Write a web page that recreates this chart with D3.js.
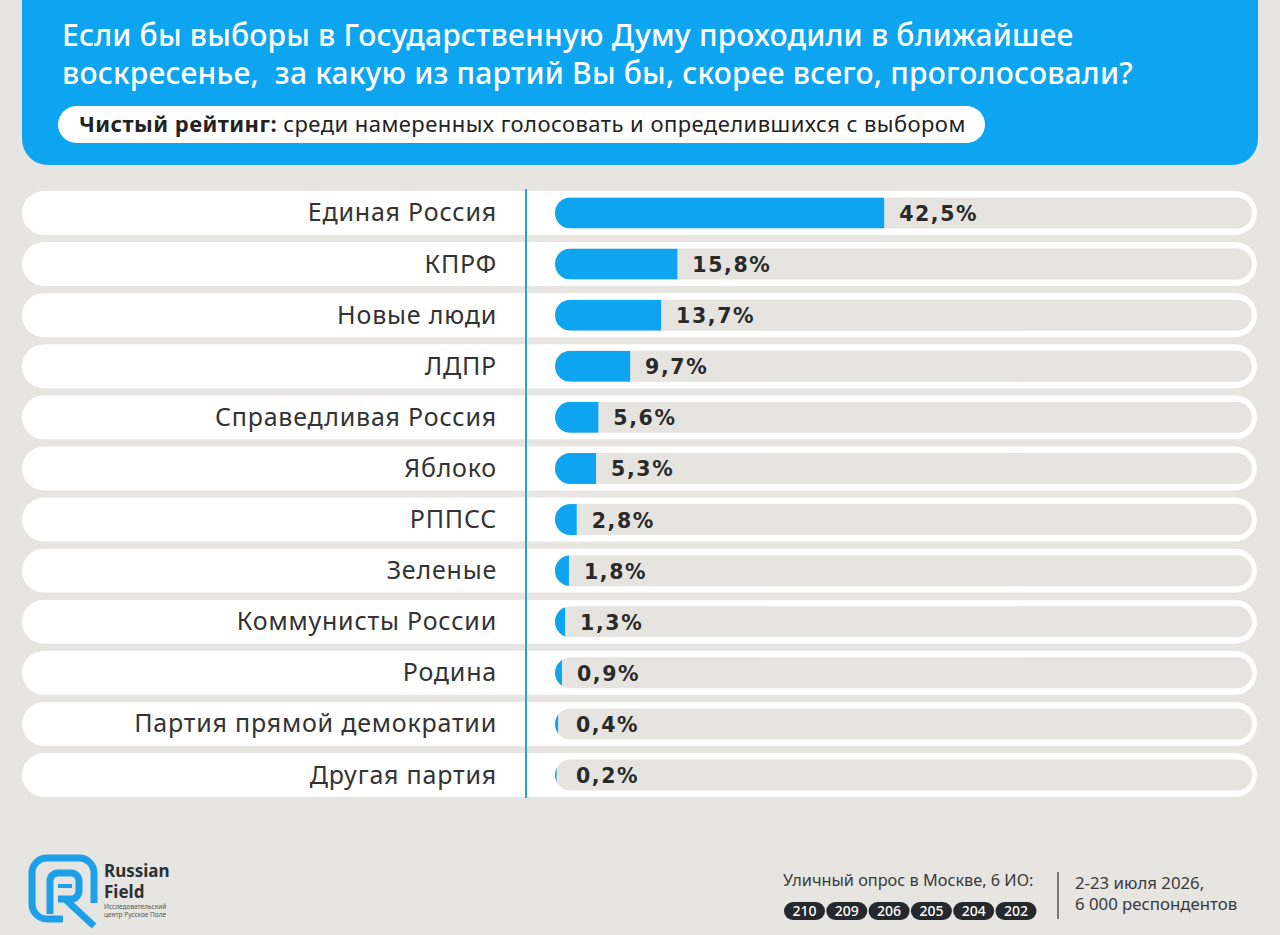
<!DOCTYPE html>
<html lang="ru">
<head>
<meta charset="UTF-8">
<title>Рейтинг партий</title>
<script src="https://cdn.jsdelivr.net/npm/d3@7"></script>
<style>
  body { margin: 0; background: #e6e5e2; }
  svg { display: block; }
</style>
</head>
<body>
<div id="app"></div>
<script>
var width = 1280;
var height = 935;

// данные
var parties = ["Единая Россия", "КПРФ", "Новые люди", "ЛДПР", "Справедливая Россия", "Яблоко",
  "РППСС", "Зеленые", "Коммунисты России", "Родина", "Партия прямой демократии", "Другая партия"];
var values = [42.5, 15.8, 13.7, 9.7, 5.6, 5.3, 2.8, 1.8, 1.3, 0.9, 0.4, 0.2];
var titleLines = ["Если бы выборы в Государственную Думу проходили в ближайшее",
  "воскресенье,  за какую из партий Вы бы, скорее всего, проголосовали?"];
var districts = ["210", "209", "206", "205", "204", "202"];

var blue = "#0ea5f0";
var dark = "#2e3033";
var font = "'Noto Sans', 'Open Sans', sans-serif";

var svg = d3.select("#app").append("svg")
  .attr("width", width)
  .attr("height", height)
  .style("font-family", font);

svg.append("rect").attr("width", width).attr("height", height).attr("fill", "#e6e5e2");

// шапка
svg.append("rect")
  .attr("x", 22).attr("y", -40)
  .attr("width", 1236).attr("height", 205)
  .attr("rx", 26)
  .attr("fill", blue);

svg.selectAll(".title")
  .data(titleLines)
  .enter().append("text")
  .attr("class", "title")
  .attr("x", 62)
  .attr("y", function (d, i) { return 46 + i * 38; })
  .attr("fill", "#fff")
  .style("font-size", "30px")
  .style("font-weight", 500)
  .style("letter-spacing", "0.2px")
  .style("white-space", "pre")
  .text(function (d) { return d; });

svg.append("rect")
  .attr("x", 58).attr("y", 106)
  .attr("width", 927).attr("height", 37)
  .attr("rx", 18.5)
  .attr("fill", "#fff");

var sub = svg.append("text")
  .attr("x", 79).attr("y", 132)
  .attr("fill", "#222")
  .style("font-size", "22px")
  .style("letter-spacing", "0.45px");
sub.append("tspan").style("font-weight", 700).text("Чистый рейтинг:");
sub.append("tspan").text(" среди намеренных голосовать и определившихся с выбором");

// шкалы
var x = d3.scaleLinear().domain([0, 90]).range([555, 1252]);
var y = d3.scaleBand().domain(parties).range([191, 797]).paddingInner(0.14).paddingOuter(0);
var bh = y.bandwidth();
var th = 31;

var defs = svg.append("defs");

var rows = svg.selectAll(".row")
  .data(parties)
  .enter().append("g")
  .attr("class", "row")
  .attr("transform", function (d) { return "translate(0," + y(d) + ")"; });

rows.append("rect")
  .attr("x", 22).attr("y", 0)
  .attr("width", 1235).attr("height", bh)
  .attr("rx", bh / 2)
  .attr("fill", "#fff");

rows.append("rect")
  .attr("x", x(0)).attr("y", (bh - th) / 2)
  .attr("width", x.range()[1] - x(0)).attr("height", th)
  .attr("rx", th / 2)
  .attr("fill", "#e5e4e1");

rows.each(function (d, i) {
  defs.append("clipPath").attr("id", "clip" + i)
    .append("rect")
    .attr("x", x(0)).attr("y", (bh - th) / 2)
    .attr("width", x.range()[1] - x(0)).attr("height", th)
    .attr("rx", th / 2);
});

rows.append("rect")
  .attr("clip-path", function (d, i) { return "url(#clip" + i + ")"; })
  .attr("x", x(0)).attr("y", (bh - th) / 2)
  .attr("width", function (d, i) { return x(values[i]) - x(0); })
  .attr("height", th)
  .attr("fill", blue);

rows.append("text")
  .attr("x", 497)
  .attr("y", bh / 2 + 8.5)
  .attr("text-anchor", "end")
  .attr("fill", "#333")
  .style("font-size", "25px")
  .style("letter-spacing", "0.8px")
  .text(function (d) { return d; });

rows.append("text")
  .attr("x", function (d, i) { return Math.max(x(values[i]), x(0) + 6) + 15; })
  .attr("y", bh / 2 + 8)
  .attr("fill", "#2a2a2a")
  .style("font-family", "'DejaVu Sans', sans-serif")
  .style("font-size", "20.5px")
  .style("font-weight", 700)
  .style("letter-spacing", "1.6px")
  .text(function (d, i) { return String(values[i]).replace(".", ",") + "%"; });

svg.append("line")
  .attr("x1", 526).attr("x2", 526)
  .attr("y1", 189).attr("y2", 798)
  .attr("stroke", "#2b9fdc")
  .attr("stroke-width", 2);

// логотип
var logo = svg.append("g")
  .attr("fill", "none")
  .attr("stroke", "#1ea0e8")
  .attr("stroke-width", 7)
  .attr("stroke-linejoin", "round");
logo.append("path")
  .attr("d", "M63,919 H47 A15,15 0 0 1 32,904 V873 A15,15 0 0 1 47,858 H79 A15,15 0 0 1 94,873 V903");
logo.append("path")
  .attr("d", "M50,914 V881 A8,8 0 0 1 58,873 H71 A8,8 0 0 1 79,881 V891 A8,8 0 0 1 71,899 H58 M65,899 L94,926");
logo.append("path")
  .attr("stroke-width", 4)
  .attr("d", "M58,886 H72");

svg.append("text").attr("x", 104).attr("y", 877)
  .attr("fill", dark).style("font-size", "17px").style("font-weight", 700).text("Russian");
svg.append("text").attr("x", 104).attr("y", 898)
  .attr("fill", dark).style("font-size", "17px").style("font-weight", 700).text("Field");
svg.append("text").attr("x", 104).attr("y", 909)
  .attr("fill", "#555").style("font-size", "6.5px").text("Исследовательский");
svg.append("text").attr("x", 104).attr("y", 917)
  .attr("fill", "#555").style("font-size", "6.5px").text("центр Русское Поле");

// подвал
svg.append("text").attr("x", 783).attr("y", 886)
  .attr("fill", "#3a3a3a").style("font-size", "16.3px").text("Уличный опрос в Москве, 6 ИО:");

var pill = svg.selectAll(".pill")
  .data(districts)
  .enter().append("g")
  .attr("class", "pill")
  .attr("transform", function (d, i) { return "translate(" + (784 + i * 42.3) + ",902)"; });
pill.append("rect")
  .attr("width", 41).attr("height", 18).attr("rx", 9)
  .attr("fill", "#25282c");
pill.append("text")
  .attr("x", 20.5).attr("y", 14)
  .attr("text-anchor", "middle")
  .attr("fill", "#fff")
  .style("font-size", "14px")
  .style("font-weight", 500)
  .text(function (d) { return d; });

svg.append("line")
  .attr("x1", 1058).attr("x2", 1058)
  .attr("y1", 872).attr("y2", 919)
  .attr("stroke", "#555").attr("stroke-width", 1.5);

svg.append("text").attr("x", 1075).attr("y", 889)
  .attr("fill", "#3a3a3a").style("font-size", "16.8px").text("2-23 июля 2026,");
svg.append("text").attr("x", 1075).attr("y", 910)
  .attr("fill", "#3a3a3a").style("font-size", "16.8px").text("6 000 респондентов");
</script>
</body>
</html>
